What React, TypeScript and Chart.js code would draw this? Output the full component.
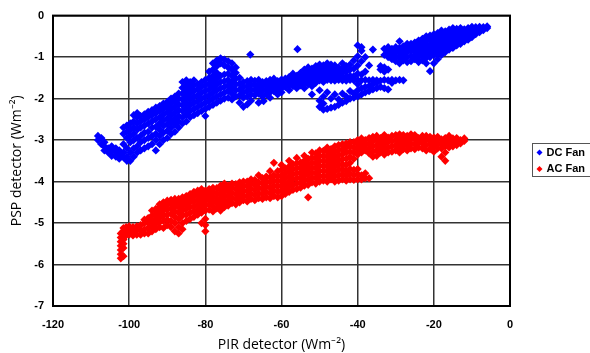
import React, { useEffect, useRef } from "react";
import { Chart, registerables } from "chart.js";

Chart.register(...registerables);

// Axis ticks
const xTicks = [-120, -100, -80, -60, -40, -20, 0];
const yTicks = [-7, -6, -5, -4, -3, -2, -1, 0];

// DC Fan: each row is [PIR x, PSP y values...]
const dcFanLeft: number[][] = [
  [-108.2, -2.9, -3.0],
  [-107.3, -2.95, -3.1],
  [-106.5, -3.15, -3.05, -3.25],
  [-105.5, -3.2, -3.3],
  [-104.6, -3.25, -3.15, -3.38],
  [-103.5, -3.3, -3.4, -3.2],
  [-102.6, -3.35, -3.25, -3.45],
  [-101.5, -3.3, -3.42, -3.1, -2.85, -2.7],
  [-100.6, -3.4, -3.5, -3.2, -2.65, -2.8, -2.95],
  [-99.7, -3.5, -3.3, -3.05, -2.75, -2.6, -2.9],
  [-98.8, -3.4, -3.2, -3.0, -2.85, -2.7, -2.55, -2.4],
  [-97.9, -3.3, -3.15, -2.95, -2.75, -2.6, -2.45, -2.35],
  [-97.0, -3.25, -3.05, -2.9, -2.7, -2.55, -2.42],
  [-96.0, -3.2, -3.0, -2.82, -2.65, -2.5, -2.38],
  [-95.0, -3.15, -2.95, -2.8, -2.6, -2.45, -2.32],
  [-94.0, -3.1, -2.9, -2.7, -2.55, -2.4, -2.28],
  [-93.0, -3.25, -3.0, -2.85, -2.68, -2.5, -2.35, -2.22],
  [-92.0, -3.1, -2.9, -2.75, -2.6, -2.45, -2.3, -2.18],
  [-91.0, -3.0, -2.82, -2.66, -2.52, -2.38, -2.24, -2.12],
  [-90.0, -2.95, -2.78, -2.62, -2.48, -2.33, -2.2, -2.08],
  [-89.0, -2.85, -2.7, -2.55, -2.4, -2.26, -2.12, -2.0],
  [-88.0, -2.8, -2.62, -2.48, -2.34, -2.2, -2.06, -1.95],
  [-87.0, -2.7, -2.55, -2.42, -2.28, -2.14, -2.0, -1.88],
  [-86.0, -2.6, -2.45, -2.3, -2.16, -2.02, -1.88, -1.74, -1.6],
  [-85.0, -2.55, -2.38, -2.24, -2.1, -1.95, -1.82, -1.68, -1.56],
  [-84.0, -2.45, -2.3, -2.16, -2.02, -1.88, -1.75, -1.6],
  [-83.0, -2.4, -2.25, -2.1, -1.96, -1.82, -1.68, -1.56],
  [-82.0, -2.35, -2.2, -2.06, -1.92, -1.78, -1.65],
  [-81.0, -2.3, -2.15, -2.0, -1.86, -1.72, -1.6],
  [-80.0, -2.42, -2.25, -2.1, -1.96, -1.82, -1.68, -1.55],
  [-79.0, -2.2, -2.06, -1.92, -1.78, -1.64, -1.5, -1.35],
  [-78.0, -2.15, -2.0, -1.86, -1.72, -1.58, -1.45, -1.3, -1.15],
  [-77.0, -2.1, -1.95, -1.8, -1.66, -1.52, -1.38, -1.22, -1.08],
  [-76.0, -2.05, -1.9, -1.75, -1.6, -1.45, -1.15, -1.03],
  [-75.0, -2.0, -1.86, -1.72, -1.58, -1.42, -1.2, -1.06],
  [-74.0, -1.98, -1.82, -1.68, -1.55, -1.4, -1.25, -1.1],
  [-73.0, -2.02, -1.88, -1.74, -1.6, -1.45, -1.3, -1.15],
  [-72.0, -1.95, -1.8, -1.66, -1.52, -1.38, -1.25],
  [-71.0, -2.1, -1.92, -1.78, -1.64, -1.5],
  [-70.0, -2.2, -1.98, -1.85, -1.72, -1.6],
  [-69.0, -2.14, -1.95, -1.82, -1.7, -1.58],
  [-68.2, -0.94],
  [-68.0, -2.05, -1.9, -1.78, -1.66, -1.55],
  [-67.0, -1.92, -1.8, -1.68, -1.57],
  [-66.0, -2.1, -1.88, -1.76, -1.65, -1.55],
  [-65.0, -1.95, -1.82, -1.7, -1.6],
  [-64.7, -2.06],
  [-64.0, -1.9, -1.78, -1.67, -1.58],
  [-63.0, -1.98, -1.85, -1.74, -1.64, -1.55],
  [-62.0, -1.82, -1.72, -1.62, -1.52],
  [-61.0, -1.9, -1.78, -1.68, -1.58],
  [-60.0, -1.85, -1.75, -1.64, -1.54],
];

const dcFanRight: number[][] = [
  [-59, -1.72, -1.62, -1.52],
  [-58, -1.8, -1.68, -1.58, -1.48],
  [-57, -1.7, -1.6, -1.5, -1.4],
  [-56, -1.75, -1.65, -1.55, -1.45],
  [-55.8, -0.81],
  [-55, -1.68, -1.58, -1.48, -1.38],
  [-54, -1.75, -1.62, -1.52, -1.42, -1.3],
  [-53, -1.66, -1.55, -1.45, -1.35, -1.25],
  [-52, -1.9, -1.7, -1.58, -1.48, -1.38, -1.28],
  [-51, -1.62, -1.52, -1.42, -1.32, -1.22],
  [-50, -2.2, -2.05, -1.8, -1.56, -1.46, -1.36, -1.26, -1.18],
  [-49, -2.27, -2.12, -1.95, -1.6, -1.5, -1.4, -1.3, -1.2],
  [-48, -2.25, -1.85, -1.55, -1.45, -1.35, -1.25, -1.15],
  [-47, -2.22, -2.0, -1.56, -1.48, -1.38, -1.28, -1.18],
  [-46, -2.2, -1.9, -1.57, -1.5, -1.4, -1.3, -1.2],
  [-45, -2.15, -2.02, -1.55, -1.45, -1.35, -1.25],
  [-44, -2.1, -1.88, -1.56, -1.48, -1.38, -1.28, -1.15],
  [-43, -2.06, -1.95, -1.57, -1.47, -1.35, -1.22],
  [-42, -2.0, -1.82, -1.55, -1.45, -1.3, -1.18],
  [-41, -1.98, -1.88, -1.56, -1.46, -1.28, -1.08],
  [-40, -1.95, -1.8, -1.65, -1.55, -1.4, -1.2, -0.98, -0.72],
  [-39, -1.9, -1.75, -1.56, -1.42, -1.1, -0.85, -0.76],
  [-38, -1.85, -1.72, -1.55, -1.35, -1.0],
  [-37, -1.82, -1.7, -1.56, -1.2],
  [-36, -1.78, -1.65, -1.55, -0.82],
  [-35, -1.75, -1.62, -1.56],
  [-34, -1.72, -1.57, -1.3, -1.22],
  [-33, -1.75, -1.55, -1.35, -1.25, -0.95, -0.8],
  [-32, -1.78, -1.56, -1.3, -1.0, -0.88, -0.76],
  [-31, -1.62, -1.55, -1.05, -0.92, -0.8],
  [-30, -1.56, -1.1, -0.98, -0.85, -0.76],
  [-29, -1.55, -1.15, -1.02, -0.9, -0.78, -0.62],
  [-28, -1.56, -1.08, -0.96, -0.84, -0.74],
  [-27, -1.12, -1.0, -0.88, -0.78, -0.68],
  [-26, -1.1, -0.98, -0.86, -0.76, -0.68],
  [-25, -1.05, -0.95, -0.84, -0.74, -0.65],
  [-24, -1.12, -1.0, -0.9, -0.8, -0.7, -0.6],
  [-23, -1.08, -0.96, -0.86, -0.76, -0.66, -0.56],
  [-22, -1.15, -1.02, -0.92, -0.82, -0.72, -0.62, -0.5],
  [-21, -1.34, -1.0, -0.9, -0.8, -0.7, -0.58, -0.48],
  [-20, -1.15, -0.95, -0.85, -0.75, -0.65, -0.55, -0.45],
  [-19, -1.05, -0.92, -0.8, -0.7, -0.6, -0.5, -0.42],
  [-18, -0.95, -0.84, -0.74, -0.64, -0.54, -0.45, -0.36],
  [-17, -0.88, -0.78, -0.68, -0.58, -0.48, -0.38],
  [-16, -0.82, -0.72, -0.62, -0.52, -0.42, -0.34],
  [-15, -0.78, -0.68, -0.58, -0.48, -0.38, -0.3],
  [-14, -0.72, -0.62, -0.52, -0.42, -0.32],
  [-13, -0.68, -0.58, -0.48, -0.38, -0.3],
  [-12, -0.62, -0.52, -0.42, -0.33],
  [-11, -0.58, -0.48, -0.38, -0.3],
  [-10, -0.52, -0.42, -0.34, -0.27],
  [-9, -0.45, -0.36, -0.28],
  [-8, -0.4, -0.32, -0.27],
  [-7, -0.35, -0.28],
  [-6, -0.3, -0.26],
];

// AC Fan
const acFanLeft: number[][] = [
  [-102.2, -5.85, -5.75, -5.65, -5.55, -5.45, -5.35, -5.25],
  [-101.5, -5.8, -5.6, -5.5, -5.4, -5.3, -5.2, -5.12],
  [-100.8, -5.3, -5.2, -5.1],
  [-100, -5.28, -5.18, -5.08],
  [-99, -5.3, -5.2, -5.1],
  [-98, -5.28, -5.18, -5.08],
  [-97, -5.28, -5.17, -5.05],
  [-96, -5.25, -5.15, -5.0, -4.92],
  [-95, -5.25, -5.12, -5.0, -4.88],
  [-94, -5.2, -5.08, -4.95, -4.82, -4.7],
  [-93, -5.15, -5.02, -4.9, -4.78, -4.66],
  [-92, -5.1, -4.98, -4.86, -4.74, -4.62, -4.55],
  [-91, -5.12, -4.95, -4.82, -4.7, -4.6, -4.5],
  [-90, -5.05, -4.92, -4.8, -4.68, -4.56, -4.46],
  [-89, -5.1, -4.95, -4.78, -4.65, -4.54, -4.44],
  [-88, -5.2, -5.0, -4.85, -4.72, -4.6, -4.5, -4.42],
  [-87, -5.25, -5.1, -4.9, -4.75, -4.62, -4.52, -4.42],
  [-86, -5.15, -5.0, -4.82, -4.7, -4.58, -4.48, -4.38],
  [-85, -4.95, -4.8, -4.66, -4.55, -4.45, -4.35],
  [-84, -4.9, -4.75, -4.62, -4.5, -4.4, -4.3],
  [-83, -4.85, -4.72, -4.6, -4.48, -4.36, -4.25],
  [-82, -4.8, -4.68, -4.56, -4.44, -4.32, -4.22],
  [-81, -5.0, -4.75, -4.62, -4.5, -4.38, -4.28, -4.18],
  [-80, -5.2, -5.05, -4.9, -4.7, -4.58, -4.46, -4.34, -4.22],
  [-79, -4.68, -4.55, -4.42, -4.3, -4.18],
  [-78, -4.72, -4.6, -4.48, -4.36, -4.25, -4.15],
  [-77, -4.65, -4.52, -4.4, -4.28, -4.16],
  [-76, -4.7, -4.58, -4.45, -4.32, -4.2, -4.1],
  [-75, -4.62, -4.5, -4.38, -4.26, -4.15, -4.05],
  [-74, -4.58, -4.46, -4.34, -4.22, -4.1],
  [-73, -4.52, -4.4, -4.28, -4.16, -4.05],
  [-72, -4.55, -4.42, -4.3, -4.18, -4.06],
  [-71, -4.5, -4.38, -4.26, -4.14, -4.02],
  [-70, -4.45, -4.34, -4.22, -4.1, -4.0],
  [-69, -4.48, -4.36, -4.24, -4.12, -4.0],
  [-68, -4.42, -4.3, -4.18, -4.06, -3.95],
  [-67, -4.45, -4.32, -4.2, -4.08, -3.96],
  [-66, -4.4, -4.28, -4.15, -4.02, -3.85],
  [-65, -4.42, -4.3, -4.18, -4.05, -3.92],
  [-64, -4.38, -4.25, -4.12, -4.0, -3.88],
  [-63, -4.4, -4.28, -4.15, -4.02, -3.9, -3.75],
  [-62, -4.35, -4.22, -4.1, -3.98, -3.85, -3.55],
  [-61, -4.38, -4.25, -4.12, -4.0, -3.88, -3.75],
  [-60, -4.35, -4.22, -4.1, -3.98, -3.85, -3.72, -3.6],
];

const acFanRight: number[][] = [
  [-59, -4.3, -4.18, -4.05, -3.92, -3.8, -3.68],
  [-58, -4.25, -4.12, -4.0, -3.88, -3.76, -3.64, -3.5],
  [-57, -4.2, -4.08, -3.95, -3.82, -3.7, -3.58],
  [-56, -4.18, -4.05, -3.92, -3.8, -3.68, -3.56, -3.43],
  [-55, -4.15, -4.02, -3.9, -3.78, -3.66, -3.54],
  [-54, -4.1, -3.98, -3.86, -3.74, -3.62, -3.5, -3.38],
  [-53, -4.38, -4.08, -3.95, -3.82, -3.7, -3.58, -3.45],
  [-52, -4.02, -3.9, -3.78, -3.66, -3.54, -3.42, -3.3],
  [-51, -4.05, -3.92, -3.8, -3.68, -3.56, -3.44, -3.32],
  [-50, -4.0, -3.88, -3.75, -3.62, -3.5, -3.38, -3.25],
  [-49, -3.98, -3.86, -3.74, -3.62, -3.5, -3.38, -3.26],
  [-48, -4.0, -3.88, -3.76, -3.64, -3.52, -3.4, -3.28, -3.18],
  [-47, -3.95, -3.82, -3.7, -3.58, -3.46, -3.34, -3.22],
  [-46, -4.0, -3.88, -3.76, -3.64, -3.52, -3.4, -3.28, -3.15],
  [-45, -3.98, -3.85, -3.72, -3.6, -3.48, -3.36, -3.24, -3.12],
  [-44, -3.95, -3.82, -3.7, -3.58, -3.46, -3.34, -3.22, -3.1],
  [-43, -3.98, -3.86, -3.74, -3.6, -3.45, -3.3, -3.18, -3.08],
  [-42, -3.95, -3.82, -3.7, -3.55, -3.4, -3.28, -3.15, -3.05],
  [-41, -3.96, -3.84, -3.72, -3.45, -3.3, -3.18, -3.05],
  [-40, -3.95, -3.82, -3.7, -3.35, -3.22, -3.1, -3.0],
  [-39, -3.95, -3.85, -3.3, -3.18, -3.06, -2.96],
  [-38, -3.92, -3.8, -3.25, -3.12, -3.0],
  [-37, -3.92, -3.32, -3.2, -3.08, -2.95],
  [-36, -3.4, -3.28, -3.15, -3.02, -2.92],
  [-35, -3.38, -3.25, -3.12, -3.0, -2.9],
  [-34, -3.3, -3.18, -3.06, -2.95],
  [-33, -3.35, -3.22, -3.1, -2.98, -2.88],
  [-32, -3.3, -3.18, -3.05, -2.94],
  [-31, -3.28, -3.15, -3.02, -2.9],
  [-30, -3.25, -3.12, -3.0, -2.88],
  [-29, -3.3, -3.18, -3.06, -2.95, -2.86],
  [-28, -3.22, -3.1, -2.98, -2.88],
  [-27, -3.25, -3.14, -3.02, -2.9],
  [-26, -3.2, -3.08, -2.96, -2.86],
  [-25, -3.22, -3.1, -2.98, -2.88],
  [-24, -3.18, -3.06, -2.95],
  [-23, -3.2, -3.08, -2.98, -2.9],
  [-22, -3.25, -3.12, -3.0, -2.9],
  [-21, -3.22, -3.1, -3.0, -2.92],
  [-20, -3.28, -3.15, -3.04, -2.94],
  [-19, -3.2, -3.1, -3.0, -2.92],
  [-18, -3.4, -3.2, -3.08, -2.98],
  [-17, -3.5, -3.3, -3.15, -3.05, -2.95],
  [-16, -3.18, -3.08, -2.98, -2.9],
  [-15, -3.15, -3.05, -2.96],
  [-14, -3.12, -3.02, -2.95],
  [-13, -3.08, -3.0],
  [-12, -3.02, -2.96],
];

const seriesNames = ["DC Fan", "AC Fan"];
const seriesColors = ["#0000FF", "#FF0000"];

const toPoints = (rows: number[][]) =>
  rows.flatMap(([x, ...ys]) => ys.map((y) => ({ x, y })));

const frameAndLegend = {
  id: "frameAndLegend",
  afterDraw(chart: any) {
    const { ctx, chartArea } = chart;
    ctx.save();
    ctx.strokeStyle = "#000";
    ctx.lineWidth = 2;
    ctx.strokeRect(chartArea.left, chartArea.top, chartArea.right - chartArea.left, chartArea.bottom - chartArea.top);
    // legend box
    const lx = 532.5, ly = 143.5, lw = 70, lh = 33;
    ctx.lineWidth = 1;
    ctx.strokeStyle = "#555";
    ctx.strokeRect(lx, ly, lw, lh);
    ctx.font = "bold 11px 'Liberation Sans', Arial, sans-serif";
    ctx.textBaseline = "middle";
    seriesNames.forEach((name, i) => {
      const cy = ly + 9 + i * 16.5;
      const cx = lx + 7;
      ctx.fillStyle = seriesColors[i];
      ctx.beginPath();
      ctx.moveTo(cx, cy - 3);
      ctx.lineTo(cx + 3, cy);
      ctx.lineTo(cx, cy + 3);
      ctx.lineTo(cx - 3, cy);
      ctx.closePath();
      ctx.fill();
      ctx.fillStyle = "#000";
      ctx.fillText(name, cx + 7, cy);
    });
    ctx.restore();
  },
};

export default function App() {
  const ref = useRef<HTMLCanvasElement>(null);
  useEffect(() => {
    if (!ref.current) return;
    const tickFont = { family: "'Liberation Sans', Arial, sans-serif", size: 11, weight: "bold" as const };
    const titleFont = { family: "'Open Sans', sans-serif", size: 14 };
    const chart = new Chart(ref.current, {
      type: "scatter",
      data: {
        datasets: [
          {
            label: seriesNames[0],
            data: [...toPoints(dcFanLeft), ...toPoints(dcFanRight)],
            backgroundColor: seriesColors[0],
            borderColor: seriesColors[0],
            borderWidth: 0,
            pointStyle: "rectRot",
            pointRadius: 4.1,
          },
          {
            label: seriesNames[1],
            data: [...toPoints(acFanLeft), ...toPoints(acFanRight)],
            backgroundColor: seriesColors[1],
            borderColor: seriesColors[1],
            borderWidth: 0,
            pointStyle: "rectRot",
            pointRadius: 4.1,
          },
        ],
      },
      options: {
        responsive: false,
        animation: false,
        layout: { padding: { top: 14, right: 80, left: 0, bottom: 0 } },
        plugins: { legend: { display: false }, tooltip: { enabled: false } },
        scales: {
          x: {
            type: "linear",
            min: xTicks[0],
            max: xTicks[xTicks.length - 1],
            afterBuildTicks: (s: any) => { s.ticks = xTicks.map((v) => ({ value: v })); },
            afterFit: (s: any) => { s.height = 47; },
            ticks: { font: tickFont, color: "#000", padding: 12 },
            grid: { color: "#333", lineWidth: 1.5, drawTicks: false },
            border: { color: "#000", width: 2 },
            title: { display: true, text: "PIR detector (Wm⁻²)", font: titleFont, color: "#000", padding: { top: 0, bottom: 0 } },
          },
          y: {
            type: "linear",
            min: yTicks[0],
            max: yTicks[yTicks.length - 1],
            afterBuildTicks: (s: any) => { s.ticks = yTicks.map((v) => ({ value: v })); },
            afterFit: (s: any) => { s.width = 53; },
            ticks: { font: tickFont, color: "#000", padding: 9 },
            grid: { color: "#333", lineWidth: 1.5, drawTicks: false },
            border: { color: "#000", width: 2 },
            title: { display: true, text: "PSP detector (Wm⁻²)", font: titleFont, color: "#000", padding: { top: 9, bottom: 0 } },
          },
        },
      },
      plugins: [frameAndLegend],
    });
    return () => chart.destroy();
  }, []);
  return (
    <div style={{ position: "absolute", left: 0, top: 0, width: 590, height: 353, background: "#fff" }}>
      <canvas ref={ref} width={590} height={353} style={{ display: "block" }} />
    </div>
  );
}
